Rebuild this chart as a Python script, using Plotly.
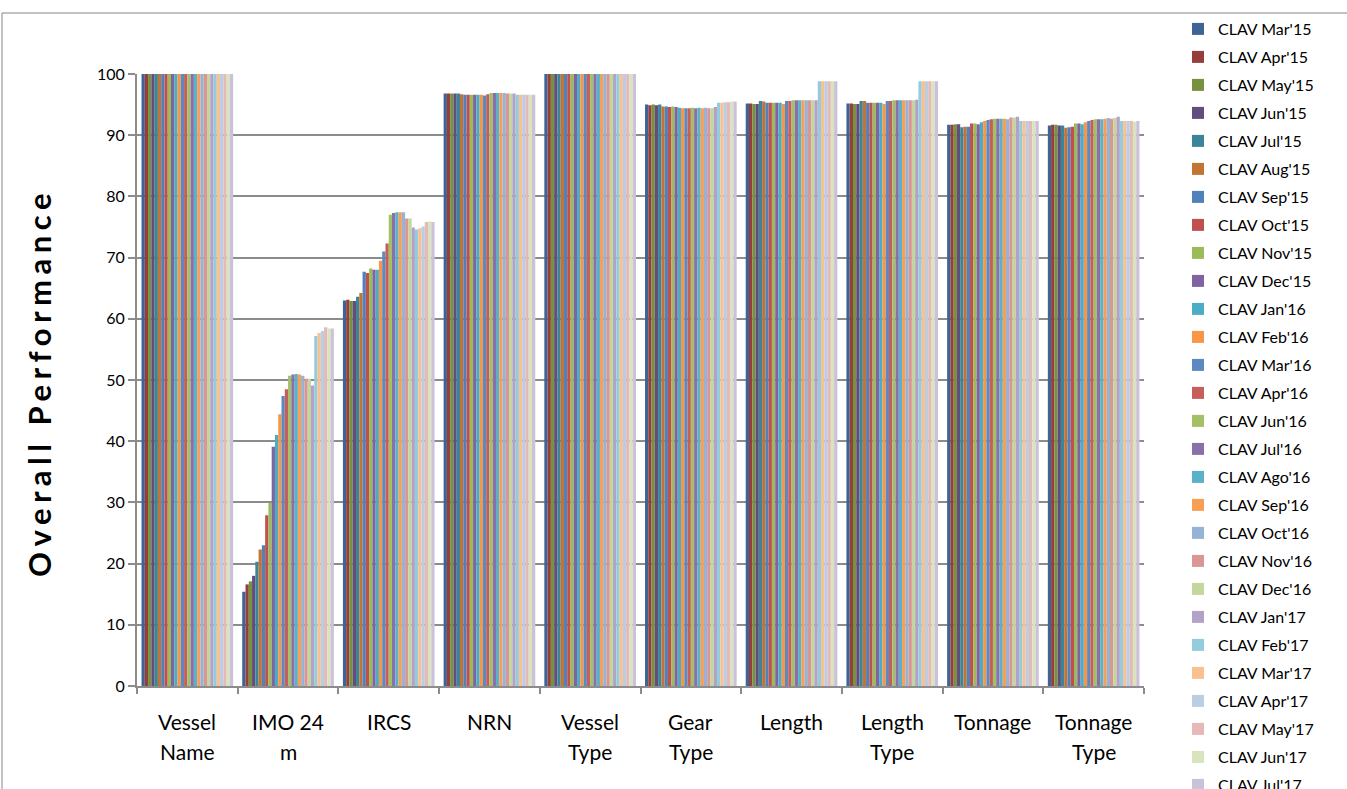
import plotly.graph_objects as go

# Categories on the x axis (label split over two lines where needed)
categories = ["Vessel Name", "IMO 24 m", "IRCS", "NRN", "Vessel Type",
              "Gear Type", "Length", "Length Type", "Tonnage", "Tonnage Type"]
label_line1 = ["Vessel", "IMO 24", "IRCS", "NRN", "Vessel",
               "Gear", "Length", "Length", "Tonnage", "Tonnage"]
label_line2 = ["Name", "m", "", "", "Type", "Type", "", "Type", "", "Type"]

# Monthly CLAV series
months = ["CLAV Mar'15", "CLAV Apr'15", "CLAV May'15", "CLAV Jun'15", "CLAV Jul'15",
          "CLAV Aug'15", "CLAV Sep'15", "CLAV Oct'15", "CLAV Nov'15", "CLAV Dec'15",
          "CLAV Jan'16", "CLAV Feb'16", "CLAV Mar'16", "CLAV Apr'16", "CLAV Jun'16",
          "CLAV Jul'16", "CLAV Ago'16", "CLAV Sep'16", "CLAV Oct'16", "CLAV Nov'16",
          "CLAV Dec'16", "CLAV Jan'17", "CLAV Feb'17", "CLAV Mar'17", "CLAV Apr'17",
          "CLAV May'17", "CLAV Jun'17", "CLAV Jul'17"]

# Overall performance per field, one value per month (same order as months)
vessel_name = [100, 100, 100, 100, 100, 100, 100, 100, 100, 100, 100, 100, 100, 100,
               100, 100, 100, 100, 100, 100, 100, 100, 100, 100, 100, 100, 100, 100]
imo_24m = [15.4, 16.6, 17.1, 18.0, 20.3, 22.3, 23.0, 27.9, 29.9, 39.1, 41.0, 44.4, 47.4, 48.5,
           50.7, 50.9, 51.0, 50.9, 50.7, 50.2, 50.2, 49.1, 57.2, 57.7, 58.0, 58.6, 58.4, 58.4]
ircs = [63.0, 63.1, 62.9, 62.9, 63.6, 64.2, 67.7, 67.5, 68.2, 68.0, 68.0, 69.5, 71.0, 72.3,
        77.0, 77.3, 77.4, 77.4, 77.4, 76.4, 76.4, 74.9, 74.6, 74.8, 75.1, 75.8, 75.9, 75.8]
nrn = [96.8, 96.8, 96.8, 96.8, 96.8, 96.7, 96.6, 96.6, 96.6, 96.6, 96.6, 96.6, 96.5, 96.7,
       96.9, 96.9, 96.9, 96.9, 96.9, 96.8, 96.8, 96.8, 96.6, 96.6, 96.6, 96.6, 96.6, 96.6]
vessel_type = [100, 100, 100, 100, 100, 100, 100, 100, 100, 100, 100, 100, 100, 100,
               100, 100, 100, 100, 100, 100, 100, 100, 100, 100, 100, 100, 100, 100]
gear_type = [95.0, 94.9, 95.0, 94.9, 95.0, 94.7, 94.7, 94.6, 94.7, 94.6, 94.5, 94.4, 94.4, 94.4,
             94.5, 94.4, 94.5, 94.4, 94.5, 94.4, 94.4, 94.6, 95.3, 95.3, 95.4, 95.4, 95.5, 95.5]
length = [95.2, 95.2, 95.1, 95.1, 95.6, 95.5, 95.3, 95.3, 95.3, 95.3, 95.3, 95.1, 95.6, 95.6,
          95.7, 95.7, 95.7, 95.7, 95.7, 95.7, 95.7, 95.7, 98.8, 98.8, 98.8, 98.8, 98.8, 98.8]
length_type = [95.2, 95.2, 95.1, 95.1, 95.6, 95.6, 95.3, 95.3, 95.3, 95.3, 95.3, 95.1, 95.6, 95.6,
               95.7, 95.7, 95.7, 95.7, 95.7, 95.7, 95.7, 95.8, 98.8, 98.8, 98.8, 98.8, 98.8, 98.8]
tonnage = [91.7, 91.7, 91.8, 91.8, 91.3, 91.4, 91.4, 91.9, 91.9, 91.8, 92.1, 92.3, 92.5, 92.6,
           92.7, 92.7, 92.7, 92.7, 92.6, 92.9, 92.9, 93.0, 92.3, 92.3, 92.3, 92.3, 92.3, 92.3]
tonnage_type = [91.6, 91.7, 91.7, 91.6, 91.6, 91.2, 91.3, 91.4, 91.9, 91.9, 91.8, 92.1, 92.3, 92.5,
                92.6, 92.6, 92.6, 92.7, 92.8, 92.7, 92.8, 93.0, 92.3, 92.3, 92.3, 92.3, 92.2, 92.3]

fields = [vessel_name, imo_24m, ircs, nrn, vessel_type,
          gear_type, length, length_type, tonnage, tonnage_type]

# Office-style palette: dark, base, base, light and lighter variants of the six accents
colors = ["#3D6494", "#953E3B", "#77923F", "#634D7E", "#3A859A", "#C27434",
          "#4F81BD", "#C0504D", "#9BBB59", "#8064A2", "#4BACC6", "#F79646",
          "#5B8AC2", "#C65E5B", "#A3C066", "#8A70AA", "#59B2CA", "#F89E55",
          "#95B3D7", "#D99694", "#C3D69B", "#B3A2C7", "#93CDDD", "#FAC090",
          "#B9CDE5", "#E6B9B8", "#D7E4BD", "#CCC1DA"]

FONT = "Lato"
GRID = "#8C8C8C"
PLOT_W = 1007   # plot area width in px
PLOT_H = 612    # plot area height in px

fig = go.Figure()
for i, name in enumerate(months):
    fig.add_trace(go.Bar(
        x=categories,
        y=[field[i] for field in fields],
        name=name,
        legendgroup=name,
        marker=dict(color=colors[i], line=dict(width=0)),
    ))

# Two-line category labels under the axis
annotations = []
for cat, l1, l2 in zip(categories, label_line1, label_line2):
    annotations.append(dict(x=cat, xref="x", y=0, yref="paper", text=l1, showarrow=False,
                            yanchor="middle", yshift=-35,
                            font=dict(family=FONT, size=21, color="#000000")))
    if l2:
        annotations.append(dict(x=cat, xref="x", y=0, yref="paper", text=l2, showarrow=False,
                                yanchor="middle", yshift=-65,
                                font=dict(family=FONT, size=21, color="#000000")))

# Vertical axis title
annotations.append(dict(
    x=(39 - 137) / PLOT_W, xref="paper", y=(686 - 383) / PLOT_H, yref="paper",
    text="<span style='letter-spacing:5.5px'><b>Overall Performance</b></span>",
    textangle=-90, showarrow=False, xanchor="center", yanchor="middle",
    font=dict(family=FONT, size=31, color="#000000"),
))

fig.update_layout(
    width=1347, height=789,
    margin=dict(l=137, r=203, t=74, b=103),
    paper_bgcolor="white", plot_bgcolor="white",
    barmode="group", bargap=0.09, bargroupgap=0,
    font=dict(family=FONT, size=16, color="#000000"),
    annotations=annotations,
    legend=dict(
        xref="container", yref="container",
        x=1178 / 1347, xanchor="left",
        y=1 - 12 / 789, yanchor="top",
        traceorder="grouped", tracegroupgap=4.2,
        font=dict(family=FONT, size=16, color="#000000"),
        bgcolor="rgba(0,0,0,0)", borderwidth=0,
        maxheight=900,
    ),
    shapes=[dict(type="rect", xref="paper", yref="paper",
                 x0=-135 / PLOT_W, x1=1.25, y0=-0.3, y1=(686 - 13) / PLOT_H,
                 line=dict(color="#868686", width=1), layer="below")],
)

fig.update_xaxes(
    type="category",
    showticklabels=False,
    ticks="outside", tickson="boundaries", ticklen=6, tickcolor=GRID, tickwidth=2,
    showline=True, linecolor=GRID, linewidth=2,
    showgrid=False,
)
fig.update_yaxes(
    range=[0, 100], tickvals=[0, 10, 20, 30, 40, 50, 60, 70, 80, 90, 100],
    ticks="outside", ticklen=7, tickcolor=GRID, tickwidth=2,
    showline=True, linecolor=GRID, linewidth=2,
    showgrid=True, gridcolor=GRID, gridwidth=2,
    zeroline=False,
    tickfont=dict(family=FONT, size=16, color="#000000"),
)

fig.write_html("out.html")
